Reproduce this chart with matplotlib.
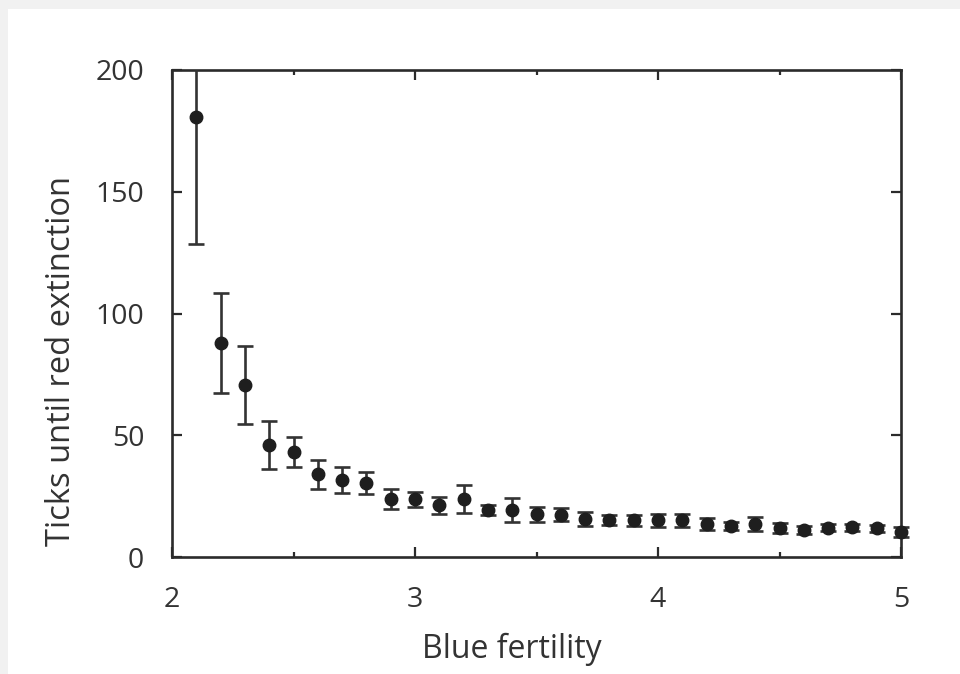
import matplotlib
matplotlib.use('Agg')
import matplotlib.pyplot as plt
from matplotlib.ticker import MultipleLocator, FixedLocator
from matplotlib.patches import Rectangle
from matplotlib.transforms import Bbox, TransformedBbox
from matplotlib import font_manager

# ---- data ----
blue_fertility = [2.1, 2.2, 2.3, 2.4, 2.5, 2.6, 2.7, 2.8, 2.9, 3.0,
                  3.1, 3.2, 3.3, 3.4, 3.5, 3.6, 3.7, 3.8, 3.9, 4.0,
                  4.1, 4.2, 4.3, 4.4, 4.5, 4.6, 4.7, 4.8, 4.9, 5.0]
ticks_mean = [180.7, 87.9, 70.6, 46.0, 43.1, 34.0, 31.6, 30.4, 23.8, 23.7,
              21.2, 23.8, 19.4, 19.2, 17.5, 17.4, 15.6, 15.2, 15.0, 15.0,
              15.0, 13.6, 12.7, 13.6, 11.8, 11.1, 12.0, 12.2, 11.8, 10.4]
ticks_err = [52.0, 20.5, 16.0, 10.0, 6.0, 6.0, 5.3, 4.5, 4.0, 3.0,
             3.6, 5.8, 2.0, 5.0, 3.0, 2.6, 3.0, 2.0, 2.2, 2.5,
             2.7, 2.5, 1.5, 3.0, 2.0, 1.5, 1.5, 1.5, 1.5, 2.0]
x_ticks = [2, 3, 4, 5]
y_ticks = [0, 50, 100, 150, 200]
x_label = "Blue fertility"
y_label = "Ticks until red extinction"

available = {f.name for f in font_manager.fontManager.ttflist}
families = [f for f in ['Liberation Sans Narrow', 'Open Sans', 'DejaVu Sans'] if f in available]
plt.rcParams['font.family'] = families

W, H = 960, 674
fig = plt.figure(figsize=(W / 100, H / 100), dpi=100)
fig.patch.set_facecolor('white')
# screenshot frame (light grey strips at top and left)
fig.patches.append(Rectangle((0, 1 - 9 / H), 1, 9 / H, transform=fig.transFigure,
                             facecolor='#f1f1f1', edgecolor='none', zorder=-5))
fig.patches.append(Rectangle((0, 0), 8 / W, 1, transform=fig.transFigure,
                             facecolor='#f1f1f1', edgecolor='none', zorder=-5))

left, right, top, bottom = 172, 901, 70, 557
ax = fig.add_axes([left / W, 1 - bottom / H, (right - left) / W, (bottom - top) / H])

dark = '#2b2b2b'
cont = ax.errorbar(blue_fertility, ticks_mean, yerr=ticks_err, fmt='o',
                   color='#1e1e1e', ecolor='#333333', ms=9.0,
                   elinewidth=1.9, capsize=5.6, capthick=1.9, zorder=3)
line, caps, bars = cont
line.set_clip_on(False)
clip_box = TransformedBbox(Bbox([[-0.05, 0.0], [1.05, 1.0]]), ax.transAxes)
for a in list(caps) + list(bars):
    a.set_clip_box(clip_box)

ax.set_xlim(2, 5)
ax.set_ylim(0, 200)
ax.xaxis.set_major_locator(FixedLocator(x_ticks))
ax.xaxis.set_minor_locator(MultipleLocator(0.5))
ax.yaxis.set_major_locator(FixedLocator(y_ticks))

for s in ax.spines.values():
    s.set_linewidth(1.9)
    s.set_color(dark)

ax.tick_params(which='both', direction='in', top=True, right=True, color=dark, width=1.6)
ax.tick_params(which='major', length=7.5)
ax.tick_params(which='minor', length=3.8)
ax.tick_params(axis='x', which='major', pad=21, labelsize=20.5, labelcolor='#333333')
ax.tick_params(axis='y', which='major', pad=20, labelsize=20.5, labelcolor='#333333')

ax.set_xlabel(x_label, fontsize=23, color='#333333')
ax.xaxis.label.set_va('baseline')
ax.xaxis.set_label_coords((512 - left) / (right - left), (bottom - 658) / (bottom - top))
ax.set_ylabel(y_label, fontsize=23.5, color='#333333')
ax.yaxis.label.set_va('baseline')
ax.yaxis.set_label_coords((70 - left) / (right - left), (bottom - 361) / (bottom - top))

fig.savefig('out.png', dpi=100)
